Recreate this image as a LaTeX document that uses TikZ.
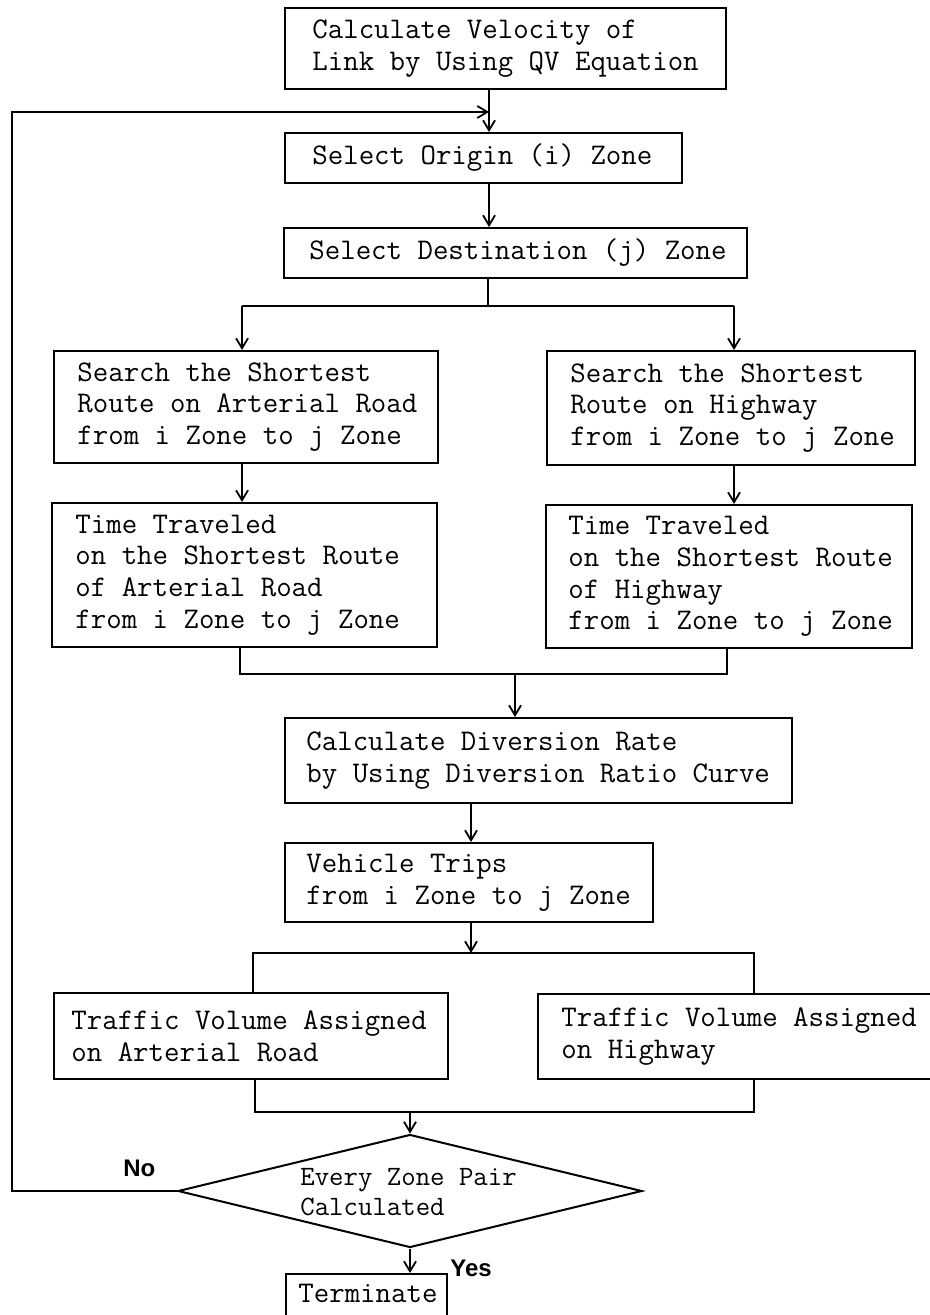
\documentclass[tikz,border=0pt]{standalone}
\usepackage{fontspec}
\setmainfont{Liberation Serif}
\newfontfamily\labfont{Liberation Sans}
\usetikzlibrary{arrows.meta,fit,calc,shapes.geometric}
\begin{document}
\begin{tikzpicture}[x=0.5pt,y=-0.5pt,
  box/.style={draw, line width=1pt, inner sep=0pt},
  txt/.style={anchor=west, align=left, inner sep=0pt, font=\ttfamily\fontsize{15}{15.9}\selectfont},
  dtxt/.style={anchor=west, align=left, inner sep=0pt, font=\ttfamily\fontsize{14}{15.2}\selectfont},
  lbl/.style={anchor=west, inner sep=0pt, font=\labfont\bfseries\fontsize{12}{14}\selectfont},
  conn/.style={line width=1pt},
  arr/.style={line width=1pt, -{Straight Barb[length=5pt,width=6pt,line width=0.9pt]}}
]
\useasboundingbox (0,0) rectangle (930,1315);

% boxes
\node[box, fit={(285,8) (726,89)}] (b1) {};
\node[txt] (t1) at ($(b1.west)+(28,0)$) {Calculate Velocity of\\Link by Using QV Equation};
\node[box, fit={(285,133) (682,183)}] (b2) {};
\node[txt] (t2) at ($(b2.west)+(28,0)$) {Select Origin (i) Zone};
\node[box, fit={(284,228) (747,278)}] (b3) {};
\node[txt] (t3) at ($(b3.west)+(26,0)$) {Select Destination (j) Zone};

\node[box, fit={(54,351) (438,463)}] (sl) {};
\node[txt] (tsl) at ($(sl.west)+(24,0)$) {Search the Shortest\\Route on Arterial Road\\from i Zone to j Zone};
\node[box, fit={(547,351) (915,465)}] (sr) {};
\node[txt] (tsr) at ($(sr.west)+(24,0)$) {Search the Shortest\\Route on Highway\\from i Zone to j Zone};

\node[box, fit={(52,503) (437,647)}] (tl) {};
\node[txt] (ttl) at ($(tl.west)+(24,0)$) {Time Traveled\\on the Shortest Route\\of Arterial Road\\from i Zone to j Zone};
\node[box, fit={(546,505) (912,648)}] (tr) {};
\node[txt] (ttr) at ($(tr.west)+(23,0)$) {Time Traveled\\on the Shortest Route\\of Highway\\from i Zone to j Zone};

\node[box, fit={(285,718) (792,803)}] (cd) {};
\node[txt] (tcd) at ($(cd.west)+(22,0)$) {Calculate Diversion Rate\\by Using Diversion Ratio Curve};
\node[box, fit={(285,843) (653,922)}] (vt) {};
\node[txt] (tvt) at ($(vt.west)+(22,0)$) {Vehicle Trips\\from i Zone to j Zone};

\node[box, fit={(54,993) (448,1079)}] (trl) {};
\node[txt] (ttrl) at ($(trl.west)+(18,0)$) {Traffic Volume Assigned\\on Arterial Road};
\node[box, fit={(538,994) (936,1079)}] (trr) {};
\node[txt] (ttrr) at ($(trr.west)+(24,0)$) {Traffic Volume Assigned\\on Highway};

\node[draw, diamond, line width=1pt, inner sep=0pt, minimum width=232pt, minimum height=56.5pt] (dm) at (410,1191) {};
\node[dtxt] (tdm) at (300,1192) {Every Zone Pair\\Calculated};

\node[box, fit={(286,1274) (447,1345)}] (term) {};
\node[txt] (tterm) at ($(term.north west)+(13,20)$) {Terminate};

\node[lbl] (no) at (123,1168) {No};
\node[lbl] (yes) at (450,1268) {Yes};

% connector coordinates
\coordinate (ax) at (489,112);
\coordinate (fb) at (12,112);
\coordinate (s1m) at (488,306);
\coordinate (s1a) at (242,306);
\coordinate (s1b) at (734,306);
\coordinate (j1a) at (240,674);
\coordinate (j1b) at (727,674);
\coordinate (j1m) at (515,674);
\coordinate (vx) at (471,0);
\coordinate (s2m) at (471,953);
\coordinate (s2a) at (253,953);
\coordinate (s2b) at (754,953);
\coordinate (j2a) at (255,1112);
\coordinate (j2b) at (754,1112);
\coordinate (j2m) at (410,1112);

% connectors
\draw[arr] (b1.south -| ax) -- (b2.north -| ax);
\draw[arr] (dm.west) -| (fb) -- (ax);
\draw[arr] (b2.south -| ax) -- (b3.north -| ax);
\draw[conn] (b3.south -| s1m) -- (s1m);
\draw[conn] (s1a) -- (s1b);
\draw[arr] (s1a) -- (s1a |- sl.north);
\draw[arr] (s1b) -- (s1b |- sr.north);
\draw[arr] (sl.south -| s1a) -- (tl.north -| s1a);
\draw[arr] (sr.south -| s1b) -- (tr.north -| s1b);
\draw[conn] (tl.south -| j1a) -- (j1a) -- (j1b) -- (tr.south -| j1b);
\draw[arr] (j1m) -- (j1m |- cd.north);
\draw[arr] (cd.south -| vx) -- (vt.north -| vx);
\draw[arr] (vt.south -| s2m) -- (s2m);
\draw[conn] (s2a |- trl.north) -- (s2a) -- (s2b) -- (s2b |- trr.north);
\draw[conn] (trl.south -| j2a) -- (j2a) -- (j2b) -- (trr.south -| j2b);
\draw[arr] (j2m) -- (dm.north);
\draw[arr] (dm.south) -- (dm.south |- term.north);
\end{tikzpicture}
\end{document}
